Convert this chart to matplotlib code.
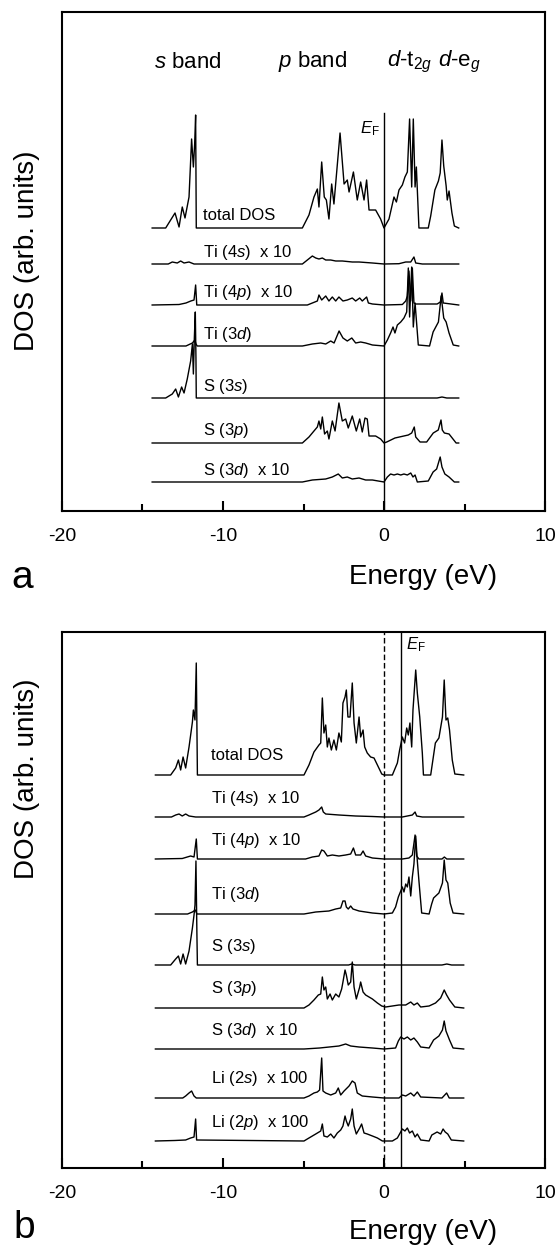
import matplotlib
matplotlib.use("Agg")
import matplotlib.pyplot as plt
from matplotlib.ticker import MultipleLocator

plt.rcParams['font.family'] = ['Liberation Sans', 'DejaVu Sans']
plt.rcParams['mathtext.fontset'] = 'custom'
plt.rcParams['mathtext.rm'] = 'Liberation Sans'
plt.rcParams['mathtext.it'] = 'Liberation Sans:italic'
plt.rcParams['mathtext.bf'] = 'Liberation Sans:bold'
plt.rcParams['axes.unicode_minus'] = False

# ---------------- data: (energy eV, DOS arb. units) ----------------
# panel a : TiS2
a_total = [(-14.4,0),(-13.56,0),(-12.98,15),(-12.73,1),(-12.53,21),(-12.36,10),(-12.11,31),(-11.95,89),(-11.84,61),(-11.76,84),(-11.70,113),(-11.66,0),(-5.07,0),(-4.66,13),(-4.35,31),(-4.14,39),(-4.04,21),(-3.87,66),(-3.71,31),(-3.58,28),(-3.42,9),(-3.25,44),(-3.11,24),(-2.73,95),(-2.48,44),(-2.28,48),(-2.17,36),(-1.90,56),(-1.66,28),(-1.45,46),(-1.24,28),(-1.08,48),(-0.93,18),(-0.52,18),(-0.21,9),(0.0,0),(0.31,9),(0.62,31),(0.77,26),(0.93,38),(1.14,43),(1.30,51),(1.45,56),(1.59,109),(1.72,41),(1.82,109),(1.93,41),(2.01,61),(2.17,0),(2.75,0),(2.90,12),(3.16,38),(3.38,47),(3.49,55),(3.60,88),(3.71,62),(3.86,42),(3.93,28),(4.04,37),(4.22,15),(4.37,2),(4.64,0)]
a_ti4s = [(-14.4,0),(-13.4,0),(-13.15,2),(-12.84,1),(-12.63,3),(-12.42,1),(-12.11,2),(-11.8,0),(-5.07,0),(-4.76,4),(-4.45,8),(-4.24,6),(-4.04,5),(-3.83,6),(-3.62,4),(-3.31,4),(-3.0,3),(-2.59,3),(-1.97,2),(-1.55,2),(-0.72,1),(0.0,0),(0.93,0.3),(1.35,2),(1.66,2),(1.86,7),(1.97,1),(2.38,0),(4.64,0)]
a_ti4p = [(-14.4,0),(-12.73,0.5),(-12.3,2),(-12.0,4),(-11.8,5),(-11.70,20),(-11.63,0),(-4.76,0),(-4.45,2),(-4.14,4),(-4.04,10),(-3.87,5),(-3.62,9),(-3.42,4),(-3.21,8),(-3.0,4),(-2.8,8),(-2.55,4),(-2.28,5),(-1.97,7),(-1.76,4),(-1.51,7),(-1.35,4),(-1.08,8),(-0.97,2),(-0.72,1),(0.0,0),(1.14,0.5),(1.35,4),(1.45,9),(1.55,34),(1.66,4),(1.76,37),(1.86,2),(1.97,1),(3.3,1),(3.5,3),(3.6,12),(3.68,2),(4.64,0)]
a_ti3d = [(-14.4,0),(-12.3,0),(-11.9,3),(-11.75,6),(-11.68,2),(-11.6,0),(-5.07,0),(-4.45,2),(-3.93,3),(-3.62,2),(-3.31,5),(-3.1,3),(-2.79,15),(-2.55,8),(-2.28,5),(-2.0,8),(-1.76,3),(-1.45,4),(-1.14,3),(-0.72,1),(0.0,0),(0.21,6),(0.41,13),(0.56,19),(0.68,13),(0.83,21),(1.04,24),(1.24,28),(1.41,34),(1.51,78),(1.59,29),(1.72,79),(1.82,19),(1.93,43),(2.13,1),(2.83,0),(3.05,14),(3.38,24),(3.55,50),(3.71,28),(3.86,24),(4.04,13),(4.3,1),(4.64,0)]
a_s3s = [(-14.4,0),(-13.56,0),(-13.15,4),(-12.94,9),(-12.77,1),(-12.57,11),(-12.42,5),(-12.22,19),(-12.01,37),(-11.9,54),(-11.84,24),(-11.78,60),(-11.72,86),(-11.68,40),(-11.66,0),(-5.0,0),(3.3,0),(3.6,1),(3.9,0),(4.64,0)]
a_s3p = [(-14.4,0),(-5.07,0),(-4.66,6),(-4.35,12),(-4.14,16),(-4.04,22),(-3.93,14),(-3.83,26),(-3.69,9),(-3.52,12),(-3.42,4),(-3.21,22),(-3.04,12),(-2.8,40),(-2.59,22),(-2.38,24),(-2.22,15),(-1.97,27),(-1.72,12),(-1.51,24),(-1.35,11),(-1.18,25),(-1.04,24),(-0.93,7),(-0.52,7),(-0.21,4),(0.0,0),(0.17,1),(0.68,5),(1.51,8),(1.72,10),(1.88,16),(1.97,6),(2.24,1),(2.65,1),(3.06,10),(3.37,13),(3.54,23),(3.62,13),(3.75,10),(4.04,9),(4.48,0),(4.64,0)]
a_s3d = [(-14.4,0),(-5.07,0),(-4.45,2),(-3.62,3),(-3.21,5),(-2.84,8),(-2.59,4),(-2.28,5),(-1.97,3),(-1.55,4),(-1.14,2),(-0.72,2),(0.0,0),(0.21,5),(0.41,8),(0.62,7),(0.83,8),(1.04,7),(1.24,8),(1.45,7),(1.66,9),(1.80,5),(1.93,7),(2.07,0),(2.75,1),(3.05,10),(3.27,13),(3.49,25),(3.6,15),(3.78,8),(4.04,5),(4.37,0),(4.64,0)]

a_labels = ["total DOS", "Ti (4$s$)  x 10", "Ti (4$p$)  x 10", "Ti (3$d$)",
            "S (3$s$)", "S (3$p$)", "S (3$d$)  x 10"]
a_offsets = [283, 247, 206, 165, 113, 68, 29]

# panel b : LiTiS2
b_total = [(-14.2,0),(-13.25,0),(-12.94,7),(-12.77,15),(-12.63,5),(-12.48,18),(-12.32,7),(-12.11,28),(-11.9,53),(-11.84,65),(-11.74,55),(-11.66,112),(-11.59,0),(-4.97,0),(-4.66,10),(-4.35,23),(-4.04,30),(-3.93,32),(-3.83,77),(-3.73,42),(-3.62,50),(-3.52,28),(-3.42,37),(-3.27,25),(-3.11,35),(-2.96,25),(-2.8,42),(-2.65,33),(-2.55,72),(-2.42,78),(-2.34,85),(-2.24,58),(-2.11,58),(-1.97,92),(-1.86,52),(-1.72,32),(-1.55,58),(-1.45,38),(-1.30,45),(-1.2,28),(-1.04,22),(-0.83,18),(-0.62,17),(-0.41,10),(-0.14,1),(0.0,0),(0.52,0),(0.83,12),(0.97,25),(1.14,38),(1.28,32),(1.41,47),(1.51,40),(1.61,52),(1.72,28),(1.80,65),(1.97,105),(2.07,82),(2.22,58),(2.38,22),(2.45,0),(2.9,0),(3.19,32),(3.41,37),(3.63,58),(3.74,95),(3.85,55),(3.96,57),(4.07,45),(4.24,15),(4.4,1),(4.95,0)]
b_ti4s = [(-14.2,0),(-13.2,0),(-12.94,2),(-12.73,3),(-12.53,1),(-12.32,3),(-12.11,1),(-11.7,0),(-4.97,0),(-4.66,2),(-4.24,5),(-4.04,7),(-3.87,10),(-3.77,5),(-3.62,3),(-2.8,2),(-1.76,1),(-0.72,0.5),(0.0,0),(1.14,0),(1.76,2),(1.93,5),(2.03,1),(2.38,0),(4.95,0)]
b_ti4p = [(-14.2,0),(-12.53,0.5),(-12.22,2),(-12.01,3),(-11.8,2),(-11.66,20),(-11.59,0),(-4.87,0),(-4.45,2),(-4.04,3),(-3.87,9),(-3.73,8),(-3.52,3),(-3.21,4),(-2.8,3),(-2.38,4),(-2.07,5),(-1.9,11),(-1.76,4),(-1.45,4),(-1.30,8),(-1.14,3),(-0.72,1),(0.0,0),(1.14,0),(1.55,1),(1.76,4),(1.93,24),(2.03,3),(2.17,0),(3.6,0),(3.75,2),(3.9,0),(4.95,0)]
b_ti3d = [(-14.2,0),(-12.2,0),(-11.9,2),(-11.72,4),(-11.62,0),(-4.97,0),(-4.24,2),(-3.42,3),(-3.0,5),(-2.69,6),(-2.55,13),(-2.42,13),(-2.34,7),(-2.22,5),(-2.07,8),(-1.93,5),(-1.55,3),(-0.72,1),(0.0,0),(0.52,1),(0.72,7),(0.89,17),(1.04,23),(1.14,27),(1.24,22),(1.35,30),(1.45,27),(1.55,37),(1.66,18),(1.76,37),(1.86,50),(1.97,78),(2.07,53),(2.17,33),(2.34,1),(2.8,0),(2.96,10),(3.08,16),(3.41,21),(3.63,31),(3.74,54),(3.85,34),(3.96,31),(4.11,11),(4.29,1),(4.95,0)]
b_s3s = [(-14.2,0),(-13.25,0),(-12.94,6),(-12.77,9),(-12.63,1),(-12.48,11),(-12.32,1),(-12.11,14),(-11.9,37),(-11.8,50),(-11.74,60),(-11.68,104),(-11.62,30),(-11.59,0),(-5.0,0),(-2.2,0),(-2.0,1),(-1.8,0),(3.6,0),(3.9,1),(4.2,0),(4.95,0)]
b_s3p = [(-14.2,0),(-4.97,0),(-4.66,3),(-4.35,8),(-4.08,13),(-3.93,14),(-3.83,31),(-3.73,18),(-3.62,21),(-3.52,9),(-3.35,14),(-3.21,8),(-3.0,14),(-2.8,11),(-2.63,19),(-2.55,26),(-2.42,38),(-2.34,33),(-2.22,23),(-2.07,26),(-1.97,46),(-1.86,21),(-1.72,9),(-1.51,21),(-1.45,26),(-1.30,16),(-1.14,13),(-0.93,11),(-0.72,9),(-0.41,5),(-0.14,2),(0.1,1),(0.93,3),(1.35,3),(1.66,6),(1.86,3),(2.07,5),(2.28,1),(2.8,2),(3.2,5),(3.52,10),(3.74,18),(3.89,13),(4.07,8),(4.4,1),(4.95,0)]
b_s3d = [(-14.2,0),(-4.97,0),(-4.0,1),(-2.8,3),(-2.38,5),(-2.07,3),(-1.55,2),(-0.72,1),(0.0,0),(0.72,1),(0.89,8),(1.04,12),(1.24,10),(1.45,12),(1.66,9),(1.86,11),(2.07,7),(2.28,2),(2.8,1),(3.08,9),(3.41,13),(3.63,19),(3.74,28),(3.85,18),(4.07,9),(4.29,1),(4.95,0)]
b_li2s = [(-14.2,0),(-12.5,0),(-12.32,2),(-12.11,5),(-11.95,7),(-11.8,2),(-11.66,0),(-4.97,0),(-4.66,2),(-4.35,5),(-4.14,6),(-4.0,8),(-3.87,40),(-3.79,7),(-3.62,5),(-3.31,3),(-3.0,5),(-2.84,10),(-2.69,3),(-2.48,7),(-2.17,12),(-1.97,17),(-1.80,15),(-1.66,5),(-1.35,2),(-0.72,1),(0.0,0),(0.93,0),(1.14,3),(1.35,2),(1.66,5),(1.86,2),(2.07,6),(2.28,1),(3.6,0),(3.89,5),(4.05,0),(4.95,0)]
b_li2p = [(-14.2,0),(-13.0,0.5),(-12.32,1),(-12.01,3),(-11.8,4),(-11.70,22),(-11.64,1),(-4.97,0),(-4.66,3),(-4.24,7),(-3.93,10),(-3.83,17),(-3.73,5),(-3.52,4),(-3.31,7),(-3.11,3),(-2.9,8),(-2.69,11),(-2.55,15),(-2.42,25),(-2.34,20),(-2.22,15),(-2.07,22),(-1.97,32),(-1.86,15),(-1.72,7),(-1.51,13),(-1.39,17),(-1.24,8),(-1.04,7),(-0.72,5),(-0.41,3),(-0.1,0),(0.52,0),(0.83,3),(1.14,12),(1.30,10),(1.45,13),(1.59,8),(1.76,10),(1.93,4),(2.07,7),(2.28,1),(2.8,0),(2.97,6),(3.3,9),(3.52,7),(3.67,12),(3.8,9),(3.96,7),(4.18,1),(4.95,0)]

b_labels = ["total DOS", "Ti (4$s$)  x 10", "Ti (4$p$)  x 10", "Ti (3$d$)",
            "S (3$s$)", "S (3$p$)", "S (3$d$)  x 10", "Li (2$s$)  x 100", "Li (2$p$)  x 100"]
b_offsets = [393, 351, 309, 254, 203, 160, 119, 70, 27]

xticks_major = [-20, -10, 0, 10]
EF_a = 0.0
EF_b = 1.05
VBM_b = 0.0

# ---------------- figure ----------------
W, H = 555, 1249
fig = plt.figure(figsize=(W / 100, H / 100), dpi=100)

def add_ax(left, top, right, bottom):
    return fig.add_axes([left / W, 1 - bottom / H, (right - left) / W, (bottom - top) / H])

ax_a = add_ax(62, 12, 545, 511)
ax_b = add_ax(62, 632, 545, 1168)

def style(ax, height):
    ax.set_xlim(-20, 10)
    ax.set_ylim(0, height)
    ax.set_xticks(xticks_major)
    ax.xaxis.set_minor_locator(MultipleLocator(5))
    ax.set_yticks([])
    ax.tick_params(axis='x', which='major', direction='in', length=7, width=1.5,
                   labelsize=14, pad=12, top=False)
    ax.tick_params(axis='x', which='minor', direction='in', length=5, width=1.5, top=False)
    for s in ax.spines.values():
        s.set_linewidth(1.5)

style(ax_a, 499)
style(ax_b, 536)

def draw(ax, curves, labels, offsets, label_x, label_gap):
    for pts, lab, off in zip(curves, labels, offsets):
        e = [p[0] for p in pts]
        d = [p[1] + off for p in pts]
        ax.plot(e, d, color='black', lw=1.0)
        ax.text(label_x, off + label_gap, lab, fontsize=12, ha='left', va='center')

draw(ax_a, [a_total, a_ti4s, a_ti4p, a_ti3d, a_s3s, a_s3p, a_s3d],
     a_labels, a_offsets, -11.24, 12)
draw(ax_b, [b_total, b_ti4s, b_ti4p, b_ti3d, b_s3s, b_s3p, b_s3d, b_li2s, b_li2p],
     b_labels, b_offsets, -10.75, 19)

# Fermi level lines
ax_a.plot([EF_a, EF_a], [0, 398], color='black', lw=1.0)
ax_a.text(-1.5, 382, r'$E_\mathrm{F}$', fontsize=12, ha='left', va='center')
ax_b.axvline(VBM_b, color='black', lw=1.0, ls=(0, (4, 2)))
ax_b.axvline(EF_b, color='black', lw=1.0)
ax_b.text(1.38, 523, r'$E_\mathrm{F}$', fontsize=12, ha='left', va='center')

# band annotations
ax_a.text(-14.28, 449, r'$s$ band', fontsize=16, ha='left', va='center')
ax_a.text(-6.56, 449, r'$p$ band', fontsize=16, ha='left', va='center')
ax_a.text(0.18, 449, r'$d$-t$_{2g}$', fontsize=16, ha='left', va='center')
ax_a.text(3.38, 449, r'$d$-e$_{g}$', fontsize=16, ha='left', va='center')

# figure-level labels
def ftext(x, y, s, **kw):
    fig.text(x / W, 1 - y / H, s, **kw)

ftext(27, 251, 'DOS (arb. units)', fontsize=20, rotation=90, ha='center', va='center')
ftext(27, 779, 'DOS (arb. units)', fontsize=20, rotation=90, ha='center', va='center')
ftext(423, 577, 'Energy (eV)', fontsize=20, ha='center', va='center')
ftext(423, 1232, 'Energy (eV)', fontsize=20, ha='center', va='center')
ftext(22, 578, 'a', fontsize=28, ha='center', va='center')
ftext(24, 1228, 'b', fontsize=28, ha='center', va='center')

fig.savefig('out.png', dpi=100)
